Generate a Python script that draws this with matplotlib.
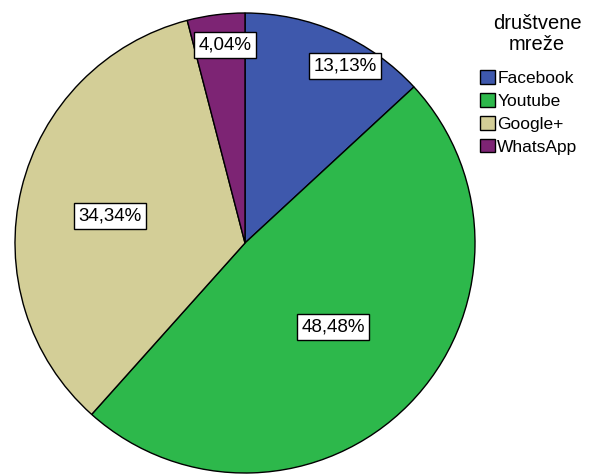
import matplotlib
matplotlib.use('Agg')
import matplotlib.pyplot as plt

plt.rcParams['font.family'] = ['Liberation Sans', 'DejaVu Sans']

# data
categories = ['Facebook', 'Youtube', 'Google+', 'WhatsApp']
percent = [13.13, 48.48, 34.34, 4.04]
colors = ['#3e58ac', '#2db84b', '#d3ce97', '#7d2474']
pct_labels = ['13,13%', '48,48%', '34,34%', '4,04%']
legend_title = 'društvene\nmreže'
# label anchor points in pie-radius units
label_xy = [(0.435, 0.77), (0.383, -0.365), (-0.587, 0.117), (-0.087, 0.861)]

fig = plt.figure(figsize=(5.9, 4.75), dpi=100)
ax = fig.add_axes([15 / 590, 2 / 475, 460 / 590, 460 / 475])

wedges, _ = ax.pie(percent, colors=colors, startangle=90, counterclock=False,
                   radius=1.0, center=(0, 0),
                   wedgeprops={'edgecolor': 'black', 'linewidth': 1.0})
ax.set_xlim(-1.0, 1.0)
ax.set_ylim(-1.0, 1.0)
ax.set_aspect('equal')

for (x, y), txt in zip(label_xy, pct_labels):
    ax.text(x, y, txt, ha='center', va='center', fontsize=13.5,
            bbox=dict(boxstyle='square,pad=0.22', facecolor='white',
                      edgecolor='black', linewidth=1.0))

# legend title drawn separately, SPSS puts a wide gap under it
fig.text(537 / 590, 1 - 34 / 475, legend_title, ha='center', va='center',
         fontsize=14.5, linespacing=1.1)

leg = fig.legend(wedges, categories,
                 loc='upper left', bbox_to_anchor=(480 / 590, 1 - 70 / 475),
                 frameon=False, fontsize=12.5,
                 handlelength=0.85, handleheight=0.85, handletextpad=0.15,
                 labelspacing=0.4, borderaxespad=0, borderpad=0)

fig.savefig('out.png', dpi=100)
